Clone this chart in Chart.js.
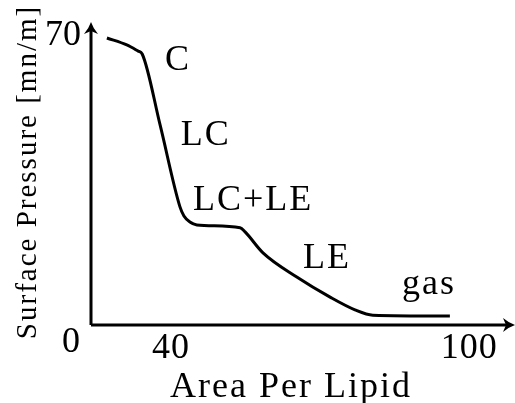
<!DOCTYPE html>
<html>
<head>
<meta charset="UTF-8">
<title>Surface Pressure Isotherm</title>
<script src="https://cdn.jsdelivr.net/npm/chart.js"></script>
<style>
    html, body { margin: 0; padding: 0; background: #ffffff; }
    #wrap { width: 515px; height: 403px; }
</style>
</head>
<body>
<div id="wrap"><canvas id="isotherm"></canvas></div>
<script>
// data
const areaPerLipid = [27.2, 31.2, 33.5, 34.3, 37.9, 41.9, 42.7, 43.9, 45.3, 54.0, 55.0, 58.6, 65.4, 72.1, 77.1, 80.7, 96.2];
const surfacePressure = [70.0, 68.3, 66.8, 66.1, 48.8, 28.8, 26.6, 25.1, 24.4, 23.7, 22.7, 17.6, 11.7, 6.8, 3.7, 2.4, 2.2];

const xTicks = [40, 100];
const yTicks = [0, 70];

const phaseLabels = ['C', 'LC', 'LC+LE', 'LE', 'gas'];
const phaseX = [41.3, 46.9, 56.4, 71.3, 91.8];
const phaseY = [62.2, 43.9, 28.0, 13.9, 7.6];

const serif = '"Liberation Serif", "DejaVu Serif", serif';

function arrowHead(ctx, x, y, angle) {
    ctx.save();
    ctx.translate(x, y);
    ctx.rotate(angle);
    ctx.beginPath();
    ctx.moveTo(0, 0);
    ctx.quadraticCurveTo(-6, 2, -12, 7);
    ctx.lineTo(-9, 0);
    ctx.lineTo(-12, -7);
    ctx.quadraticCurveTo(-6, -2, 0, 0);
    ctx.closePath();
    ctx.fill();
    ctx.restore();
}

function label(ctx, text, x, y, spacing) {
    ctx.letterSpacing = spacing + 'px';
    // trailing spacing shifts centred text, so nudge it back
    ctx.fillText(text, x + spacing / 2, y);
    ctx.letterSpacing = '0px';
}

const axesPlugin = {
    id: 'axesPlugin',
    afterDraw(chart) {
        const ctx = chart.ctx;
        const xs = chart.scales.x;
        const ys = chart.scales.y;
        const area = chart.chartArea;
        ctx.save();
        ctx.strokeStyle = '#000';
        ctx.fillStyle = '#000';
        ctx.lineWidth = 3;
        // axes
        ctx.beginPath();
        ctx.moveTo(area.left, area.bottom);
        ctx.lineTo(area.left, area.top + 6);
        ctx.moveTo(area.left, area.bottom);
        ctx.lineTo(area.right - 6, area.bottom);
        ctx.stroke();
        arrowHead(ctx, area.left, area.top, -Math.PI / 2);
        arrowHead(ctx, area.right, area.bottom, 0);

        ctx.font = '36px ' + serif;
        ctx.textBaseline = 'alphabetic';
        // x ticks
        ctx.textAlign = 'center';
        xTicks.forEach(v => {
            label(ctx, String(v), xs.getPixelForValue(v), area.bottom + 33, 1);
        });
        // y ticks
        ctx.textAlign = 'right';
        ctx.fillText(String(yTicks[1]), area.left - 10, ys.getPixelForValue(yTicks[1]) + 7);
        ctx.fillText(String(yTicks[0]), area.left - 11, ys.getPixelForValue(yTicks[0]) + 27);

        // axis titles
        ctx.textAlign = 'center';
        label(ctx, 'Area Per Lipid', 290, 397, 2);
        ctx.save();
        ctx.translate(36, 173);
        ctx.rotate(-Math.PI / 2);
        ctx.font = '29px ' + serif;
        label(ctx, 'Surface Pressure [mn/m]', 0, 0, 2);
        ctx.restore();

        // phase labels
        ctx.font = '36px ' + serif;
        phaseLabels.forEach((t, i) => {
            label(ctx, t, xs.getPixelForValue(phaseX[i]), ys.getPixelForValue(phaseY[i]), 2);
        });
        ctx.restore();
    }
};

new Chart(document.getElementById('isotherm'), {
    type: 'scatter',
    data: {
        datasets: [{
            data: areaPerLipid.map((a, i) => ({ x: a, y: surfacePressure[i] })),
            showLine: true,
            borderColor: '#000',
            borderWidth: 3,
            pointRadius: 0,
            cubicInterpolationMode: 'monotone'
        }]
    },
    options: {
        responsive: true,
        maintainAspectRatio: false,
        animation: false,
        layout: { padding: { left: 91, right: 0, top: 22, bottom: 78 } },
        plugins: { legend: { display: false }, tooltip: { enabled: false } },
        scales: {
            x: { type: 'linear', display: false, min: 24, max: 109.3 },
            y: { type: 'linear', display: false, min: 0, max: 73.9 }
        }
    },
    plugins: [axesPlugin]
});
</script>
</body>
</html>
